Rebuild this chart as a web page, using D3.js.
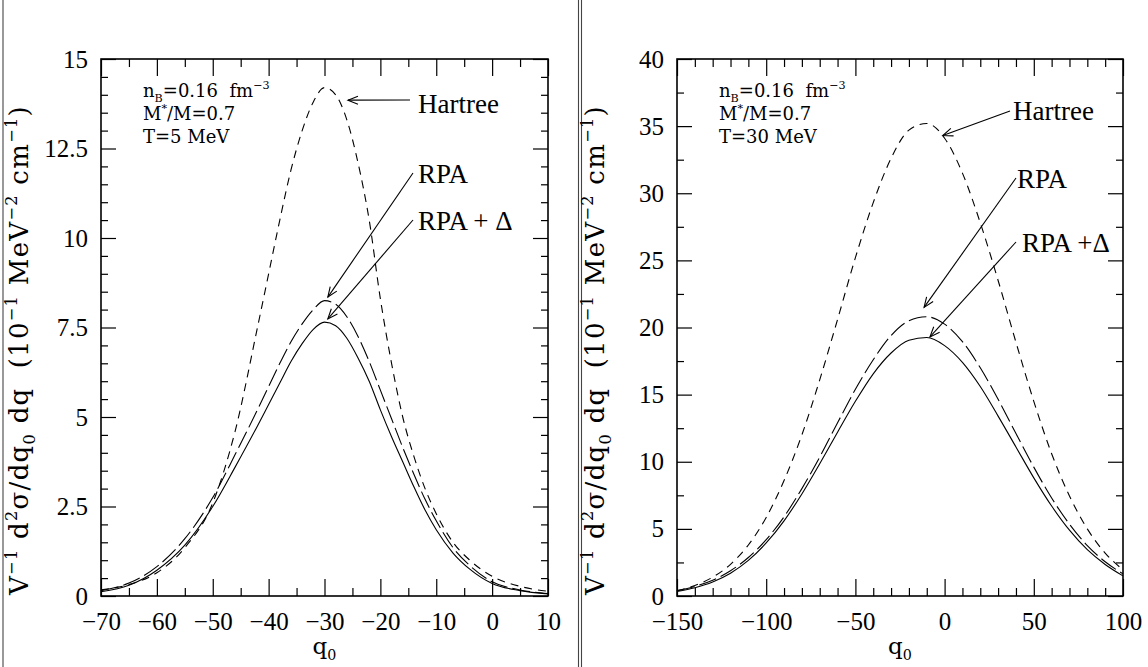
<!DOCTYPE html>
<html>
<head>
<meta charset="utf-8">
<script src="https://cdn.jsdelivr.net/npm/d3@7"></script>
<style>
  html, body { margin: 0; padding: 0; background: #fff; }
  svg { display: block; }
</style>
</head>
<body>
<svg id="chart" width="1148" height="667"></svg>
<script>
// ---- values ----
const leftQ0 = [-70,-65,-60,-55,-50,-46,-42,-40,-38,-36,-34,-32,-30,-28,-26,-24,-22,-20,-18,-16,-14,-12,-10,-7,-4,0,5,10];
const leftHartree = [0.17,0.32,0.65,1.35,2.6,4.6,7.5,9.0,10.5,11.9,13.0,13.8,14.2,14.0,13.3,12.1,10.5,8.3,6.5,5.0,3.9,3.0,2.3,1.5,1.0,0.55,0.27,0.13];
const leftRPA     = [0.15,0.36,0.82,1.6,2.75,3.95,5.2,5.85,6.5,7.1,7.6,8.0,8.25,8.15,7.8,7.25,6.55,5.75,4.95,4.15,3.4,2.7,2.1,1.35,0.85,0.4,0.17,0.07];
const leftRPADelta = [0.12,0.3,0.72,1.42,2.5,3.6,4.75,5.35,5.95,6.55,7.05,7.45,7.65,7.55,7.2,6.65,6.0,5.2,4.45,3.75,3.05,2.4,1.85,1.2,0.75,0.35,0.15,0.06];

const rightQ0 = [-150,-140,-130,-120,-110,-100,-90,-80,-70,-60,-50,-40,-30,-20,-10,0,10,20,30,40,50,60,70,80,90,100];
const rightHartree = [0.38,0.79,1.4,2.36,3.8,5.85,8.6,12.0,16.1,20.6,25.2,29.3,32.6,34.7,35.2,34.1,31.5,27.8,23.5,18.9,14.5,10.6,7.45,5.0,3.2,1.95];
const rightRPA     = [0.4,0.72,1.18,1.88,2.87,4.2,5.9,8.0,10.35,12.9,15.4,17.6,19.4,20.5,20.8,20.25,18.95,17.0,14.65,12.1,9.6,7.3,5.35,3.75,2.55,1.65];
const rightRPADelta = [0.33,0.62,1.05,1.7,2.65,3.95,5.6,7.6,9.85,12.2,14.5,16.55,18.1,19.05,19.25,18.65,17.4,15.6,13.4,11.1,8.8,6.7,4.9,3.45,2.35,1.5];

const leftXTicks = [-70,-60,-50,-40,-30,-20,-10,0,10];
const leftYTicks = [0,2.5,5,7.5,10,12.5,15];
const rightXTicks = [-150,-100,-50,0,50,100];
const rightYTicks = [0,5,10,15,20,25,30,35,40];

const seriesNames = ["Hartree", "RPA", "RPA + Δ"];

// ---- drawing ----
const svg = d3.select("#chart");
const SERIF = "'Liberation Serif','Times New Roman',serif";
const SM = "'DejaVu Serif',serif";   // stand-in for the plotting-package font
const fmt = d => String(d).replace("-", "\u2212");

// text with super/subscripts; parts are strings or {sup} / {sub}
function rich(text, parts, size) {
  let cur = 0;
  parts.forEach(p => {
    let s = p, t = 0, fs = size;
    if (typeof p !== "string") {
      if (p.sup != null) { s = p.sup; t = -size * 0.42; }
      else { s = p.sub; t = size * 0.25; }
      fs = size * 0.62;
    }
    text.append("tspan").attr("dy", t - cur).attr("font-size", fs).text(s);
    cur = t;
  });
}

// arrowhead: open V
svg.append("defs").append("marker")
  .attr("id", "head")
  .attr("viewBox", "-12 -6 14 12")
  .attr("refX", 0).attr("refY", 0)
  .attr("markerUnits", "userSpaceOnUse")
  .attr("markerWidth", 14).attr("markerHeight", 12)
  .attr("orient", "auto")
  .append("path")
  .attr("d", "M-10,-4L0,0L-10,4")
  .attr("fill", "none").attr("stroke", "#000").attr("stroke-width", 1.1);

// page separators
[3, 578.5, 581.5].forEach(xp => {
  svg.append("line").attr("x1", xp).attr("x2", xp).attr("y1", 0).attr("y2", 667)
    .attr("stroke", "#444").attr("stroke-width", 1.1);
});

const dashes = ["8,6", "18,5", null];

function drawPanel(p) {
  const x = d3.scaleLinear().domain(p.xDomain).range([p.left, p.right]);
  const y = d3.scaleLinear().domain(p.yDomain).range([p.bottom, p.top]);
  const g = svg.append("g");

  const line = d3.line()
    .x(d => x(d[0]))
    .y(d => y(d[1]))
    .curve(d3.curveMonotoneX);

  p.series.forEach((vals, i) => {
    g.append("path")
      .datum(d3.zip(p.q0, vals))
      .attr("fill", "none")
      .attr("stroke", "#000")
      .attr("stroke-width", 1.1)
      .attr("stroke-dasharray", dashes[i])
      .attr("d", line);
  });

  // axes: ticks point inward on all four sides
  const tidy = sel => {
    sel.select(".domain").remove();
    sel.selectAll(".tick line").attr("stroke-width", 1.2);
    sel.attr("font-family", SERIF).attr("font-size", 25);
    sel.selectAll("text").attr("fill", "#000");
  };

  g.append("g").attr("transform", `translate(0,${p.bottom})`)
    .call(d3.axisBottom(x).tickValues(p.xMinor).tickSizeInner(-8).tickSizeOuter(0).tickFormat(""))
    .call(tidy);
  g.append("g").attr("transform", `translate(0,${p.bottom})`)
    .call(d3.axisBottom(x).tickValues(p.xTicks).tickSizeInner(-17).tickSizeOuter(0).tickPadding(16).tickFormat(fmt))
    .call(tidy);
  g.append("g").attr("transform", `translate(0,${p.top})`)
    .call(d3.axisTop(x).tickValues(p.xMinor).tickSizeInner(-8).tickSizeOuter(0).tickFormat(""))
    .call(tidy);
  g.append("g").attr("transform", `translate(0,${p.top})`)
    .call(d3.axisTop(x).tickValues(p.xTicks).tickSizeInner(-17).tickSizeOuter(0).tickFormat(""))
    .call(tidy);

  g.append("g").attr("transform", `translate(${p.left},0)`)
    .call(d3.axisLeft(y).tickValues(p.yMinor).tickSizeInner(-7).tickSizeOuter(0).tickFormat(""))
    .call(tidy);
  g.append("g").attr("transform", `translate(${p.left},0)`)
    .call(d3.axisLeft(y).tickValues(p.yTicks).tickSizeInner(-15).tickSizeOuter(0).tickPadding(13).tickFormat(fmt))
    .call(tidy);
  g.append("g").attr("transform", `translate(${p.right},0)`)
    .call(d3.axisRight(y).tickValues(p.yMinor).tickSizeInner(-7).tickSizeOuter(0).tickFormat(""))
    .call(tidy);
  g.append("g").attr("transform", `translate(${p.right},0)`)
    .call(d3.axisRight(y).tickValues(p.yTicks).tickSizeInner(-15).tickSizeOuter(0).tickFormat(""))
    .call(tidy);

  g.append("rect")
    .attr("x", p.left).attr("y", p.top)
    .attr("width", p.right - p.left).attr("height", p.bottom - p.top)
    .attr("fill", "none").attr("stroke", "#000").attr("stroke-width", 1.6);

  // axis titles
  const xt = g.append("text")
    .attr("x", (p.left + p.right) / 2).attr("y", 654)
    .attr("text-anchor", "middle").attr("font-family", SM);
  rich(xt, ["q", {sub: "0"}], 23);

  const yt = g.append("text")
    .attr("transform", `translate(${p.left - 73},350) rotate(-90)`)
    .attr("text-anchor", "middle").attr("font-family", SM)
    .attr("letter-spacing", 1.3)
    .style("white-space", "pre");
  rich(yt, ["V", {sup: "\u22121"}, " d", {sup: "2"}, "\u03c3/dq", {sub: "0"}, " dq  (10", {sup: "\u22121"},
            " MeV", {sup: "\u22122"}, " cm", {sup: "\u22121"}, ")"], 26);

  // parameter block
  const bx = p.left + 42;
  const info = [
    ["n", {sub: "B"}, "=0.16  fm", {sup: "\u22123"}],
    ["M", {sup: "*"}, "/M=0.7"],
    [p.temp]
  ];
  info.forEach((parts, i) => {
    const t = g.append("text").attr("x", bx).attr("y", 97 + i * 23)
      .attr("font-family", SM).style("white-space", "pre");
    rich(t, parts, 18);
  });

  // curve labels with arrows
  p.notes.forEach(n => {
    g.append("line")
      .attr("x1", n.tail[0]).attr("y1", n.tail[1])
      .attr("x2", x(n.tip[0])).attr("y2", y(n.tip[1]))
      .attr("stroke", "#000").attr("stroke-width", 1.1)
      .attr("marker-end", "url(#head)");
    g.append("text")
      .attr("x", n.text[0]).attr("y", n.text[1])
      .attr("font-family", SERIF).attr("font-size", 27)
      .style("white-space", "pre")
      .text(n.label);
  });
}

drawPanel({
  left: 101, right: 548, top: 59, bottom: 596,
  xDomain: [-70, 10], yDomain: [0, 15],
  xTicks: leftXTicks, xMinor: d3.range(-65, 10, 10),
  yTicks: leftYTicks, yMinor: d3.range(0.5, 15, 0.5).filter(v => Math.abs(v / 2.5 - Math.round(v / 2.5)) > 1e-6),
  q0: leftQ0, series: [leftHartree, leftRPA, leftRPADelta],
  temp: "T=5 MeV",
  notes: [
    {label: seriesNames[0], tip: [-25.8, 13.85], tail: [410, 100], text: [418, 113]},
    {label: seriesNames[1], tip: [-29.4, 8.35], tail: [413, 173], text: [418, 183]},
    {label: seriesNames[2], tip: [-29.4, 7.74], tail: [413, 220], text: [418, 230]}
  ]
});

drawPanel({
  left: 677, right: 1123, top: 59, bottom: 596,
  xDomain: [-150, 100], yDomain: [0, 40],
  xTicks: rightXTicks, xMinor: d3.range(-140, 100, 10).filter(v => v % 50 !== 0),
  yTicks: rightYTicks, yMinor: d3.range(2.5, 40, 5),
  q0: rightQ0, series: [rightHartree, rightRPA, rightRPADelta],
  temp: "T=30 MeV",
  notes: [
    {label: seriesNames[0], tip: [-1, 34.3], tail: [1010, 111], text: [1013, 120]},
    {label: seriesNames[1], tip: [-11.5, 21.5], tail: [1016, 178], text: [1017, 188]},
    {label: "RPA +\u0394", tip: [-8.2, 19.3], tail: [1016, 242], text: [1022, 252]}
  ]
});
</script>
</body>
</html>
